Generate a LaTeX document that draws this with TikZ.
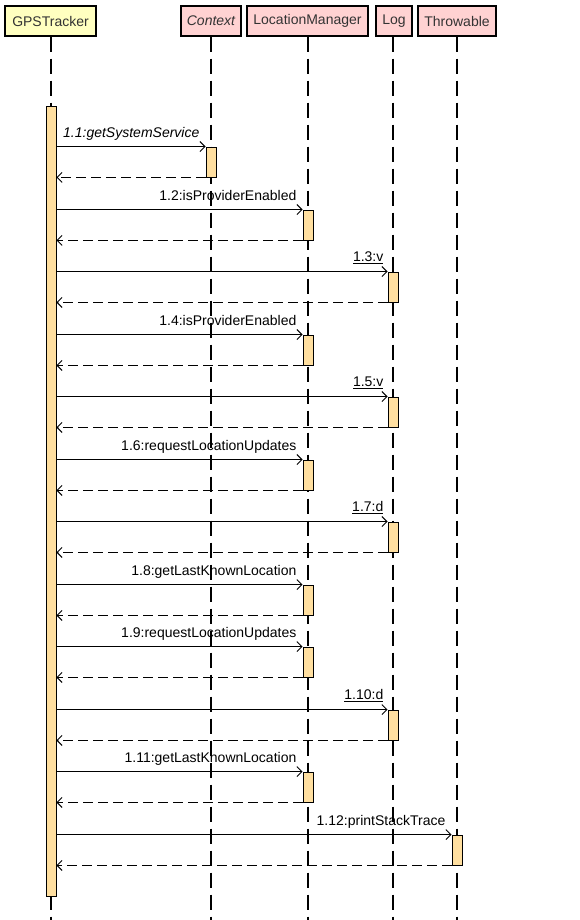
\documentclass[tikz,border=0pt]{standalone}
\usepackage{fontspec}
\setmainfont{Liberation Sans}
\usetikzlibrary{arrows.meta}
\definecolor{hdrY}{HTML}{FFFFC0}
\definecolor{hdrP}{HTML}{FFD2D2}
\definecolor{actF}{HTML}{FFDFA0}
\definecolor{txtG}{HTML}{333333}
\tikzset{
  hdr/.style={draw=black, line width=1.2pt, minimum height=30pt, inner sep=0pt, text=txtG, font=\fontsize{14}{16}\selectfont},
  lifeline/.style={draw=black, line width=1.2pt, dash pattern=on 15pt off 7pt},
  actbar/.style={draw=black, line width=0.9pt, fill=actF, minimum width=10pt, minimum height=30pt, inner sep=0pt},
  msg/.style={draw=black, line width=0.9pt, -{Straight Barb[length=5pt,width=10pt,line width=0.9pt]}},
  ret/.style={draw=black, line width=0.9pt, dash pattern=on 10pt off 5pt, -{Straight Barb[length=5pt,width=10pt,line width=0.9pt]}},
  lbl/.style={anchor=base east, inner sep=0pt, font=\fontsize{14}{16}\selectfont}
}
\begin{document}
\begin{tikzpicture}[x=1pt,y=-1pt]
\useasboundingbox (0,0) rectangle (580,920);
\fill[white] (0,0) rectangle (580,920);
% headers
\node[hdr, fill=hdrY, minimum width=91pt] (gps) at (50.5,21) {GPSTracker};
\node[hdr, fill=hdrP, minimum width=60pt] (ctx) at (211,21) {\itshape Context};
\node[hdr, fill=hdrP, minimum width=121pt] (lm) at (307.5,21) {LocationManager};
\node[hdr, fill=hdrP, minimum width=36pt] (log) at (394,21) {Log};
\node[hdr, fill=hdrP, minimum width=78pt] (thr) at (457,21) {Throwable};
% lifeline ends
\coordinate (gpsE) at (51,920);
\coordinate (ctxE) at (211,920);
\coordinate (lmE) at (308,920);
\coordinate (logE) at (393,920);
\coordinate (thrE) at (457,920);
\draw[lifeline] (gps.south -| gpsE) -- (gpsE);
\draw[lifeline] (ctx.south) -- (ctxE);
\draw[lifeline] (lm.south -| lmE) -- (lmE);
\draw[lifeline] (log.south -| logE) -- (logE);
\draw[lifeline] (thr.south) -- (thrE);
% main activation
\node[actbar, minimum height=790pt] (ga) at (51,501) {};
% target activations
\node[actbar] (a1) at (211,162) {};
\node[actbar] (a2) at (308,225) {};
\node[actbar] (a3) at (393,287) {};
\node[actbar] (a4) at (308,350) {};
\node[actbar] (a5) at (393,412) {};
\node[actbar] (a6) at (308,475) {};
\node[actbar] (a7) at (393,537) {};
\node[actbar] (a8) at (308,600) {};
\node[actbar] (a9) at (308,662) {};
\node[actbar] (a10) at (393,725) {};
\node[actbar] (a11) at (308,787) {};
\node[actbar] (a12) at (457,850) {};
% messages
\foreach \i in {1,...,12}{
  \draw[msg] (ga.east |- a\i.north) -- (a\i.north west);
  \draw[ret] (a\i.south west) -- (ga.east |- a\i.south);
}
% labels
\node[lbl] (l1) at ([xshift=-6pt,yshift=9pt]a1.north west) {\itshape 1.1:getSystemService};
\node[lbl] (l2) at ([xshift=-6pt,yshift=9pt]a2.north west) {1.2:isProviderEnabled};
\node[lbl] (l3) at ([xshift=-4pt,yshift=10pt]a3.north west) {\underline{1.3:v}};
\node[lbl] (l4) at ([xshift=-6pt,yshift=9pt]a4.north west) {1.4:isProviderEnabled};
\node[lbl] (l5) at ([xshift=-4pt,yshift=10pt]a5.north west) {\underline{1.5:v}};
\node[lbl] (l6) at ([xshift=-6pt,yshift=9pt]a6.north west) {1.6:requestLocationUpdates};
\node[lbl] (l7) at ([xshift=-4pt,yshift=10pt]a7.north west) {\underline{1.7:d}};
\node[lbl] (l8) at ([xshift=-6pt,yshift=9pt]a8.north west) {1.8:getLastKnownLocation};
\node[lbl] (l9) at ([xshift=-6pt,yshift=9pt]a9.north west) {1.9:requestLocationUpdates};
\node[lbl] (l10) at ([xshift=-4pt,yshift=10pt]a10.north west) {\underline{1.10:d}};
\node[lbl] (l11) at ([xshift=-6pt,yshift=9pt]a11.north west) {1.11:getLastKnownLocation};
\node[lbl] (l12) at ([xshift=-6pt,yshift=9pt]a12.north west) {1.12:printStackTrace};
\end{tikzpicture}
\end{document}
